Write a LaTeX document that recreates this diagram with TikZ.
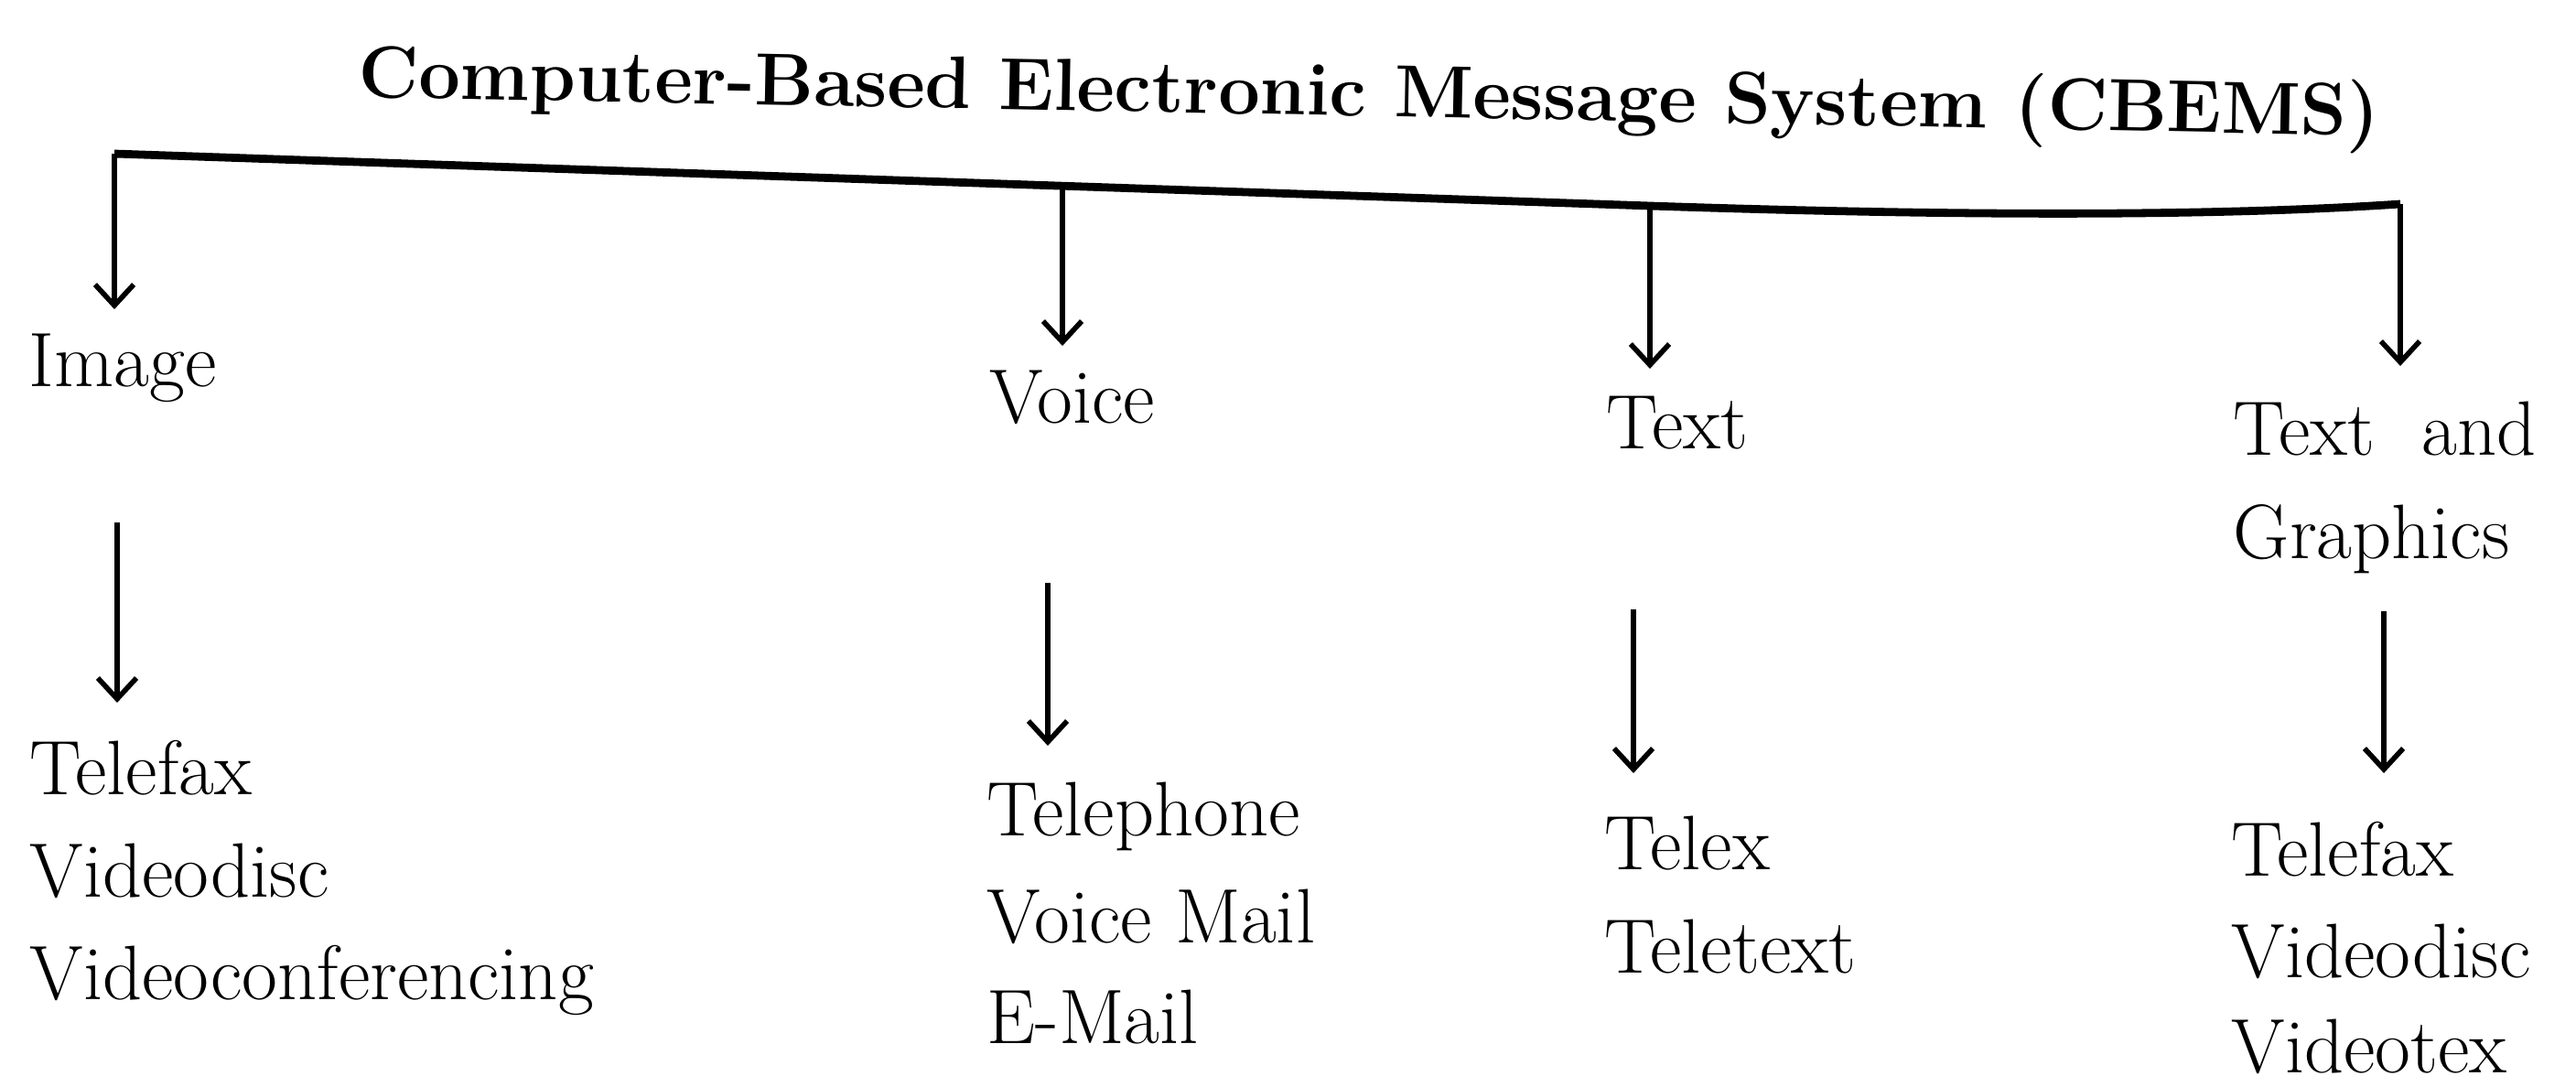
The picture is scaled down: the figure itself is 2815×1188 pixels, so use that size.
\documentclass[tikz,border=0pt]{standalone}
\usetikzlibrary{arrows.meta}
\begin{document}
\begin{tikzpicture}[x=0.01cm,y=-0.01cm,
  lbl/.style={anchor=base west,inner sep=0pt,font=\fontsize{24}{28}\selectfont},
  ttl/.style={anchor=base west,inner sep=0pt,font=\fontsize{23}{28}\selectfont\bfseries},
  trunk/.style={line width=2.5pt},
  arr/.style={line width=1.6pt,-{Straight Barb[length=6.5pt,width=12pt,line width=1.6pt]}}]
\useasboundingbox (0,0) rectangle (2815,1188);
\fill[white] (0,0) rectangle (2815,1188);
% title
\node[ttl,rotate=-1.1] (title) at (391,106) {Computer-Based Electronic Message System (CBEMS)};
% branch points on trunk
\coordinate (c1) at (125,168);
\coordinate (c2) at (1161,203);
\coordinate (c3) at (1803,225);
\coordinate (c4) at (2623,223);
\draw[trunk] (c1) -- (c3) .. controls (2100,235) and (2400,238) .. (c4);
% first-level labels
\node[lbl] (img) at (31,422) {Image};
\node[lbl] (voice) at (1081,462) {Voice};
\node[lbl] (text) at (1755,490) {Text};
\node[lbl] (tg1) at (2440,497) {Text\ \ and};
\node[lbl] (tg2) at (2440,610) {Graphics};
% arrow tips
\coordinate (t1) at (125,338);
\coordinate (t2) at (1161,378);
\coordinate (t3) at (1803,403);
\coordinate (t4) at (2623,400);
\draw[arr] (c1) -- (t1);
\draw[arr] (c2) -- (t2);
\draw[arr] (c3) -- (t3);
\draw[arr] (c4) -- (t4);
% second-level arrows
\coordinate (s1) at (128,571);  \coordinate (u1) at (128,768);
\coordinate (s2) at (1145,637); \coordinate (u2) at (1145,815);
\coordinate (s3) at (1785,666); \coordinate (u3) at (1785,845);
\coordinate (s4) at (2605,668); \coordinate (u4) at (2605,845);
\draw[arr] (s1) -- (u1);
\draw[arr] (s2) -- (u2);
\draw[arr] (s3) -- (u3);
\draw[arr] (s4) -- (u4);
% lists
\node[lbl] (i1) at (32,868) {Telefax};
\node[lbl] (i2) at (32,980) {Videodisc};
\node[lbl] (i3) at (32,1092) {Videoconferencing};
\node[lbl] (v1) at (1078,913) {Telephone};
\node[lbl] (v2) at (1078,1030) {Voice Mail};
\node[lbl] (v3) at (1078,1140) {E-Mail};
\node[lbl] (x1) at (1753,950) {Telex};
\node[lbl] (x2) at (1753,1063) {Teletext};
\node[lbl] (g1) at (2438,957) {Telefax};
\node[lbl] (g2) at (2438,1068) {Videodisc};
\node[lbl] (g3) at (2438,1172) {Videotex};
\end{tikzpicture}
\end{document}
